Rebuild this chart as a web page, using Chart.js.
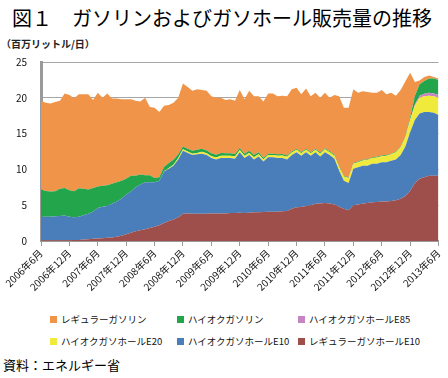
<!DOCTYPE html>
<html>
<head>
<meta charset="utf-8">
<script src="https://cdn.jsdelivr.net/npm/chart.js@4/dist/chart.umd.min.js"></script>
<style>
  html, body { margin: 0; padding: 0; background: #fff; }
  body { width: 448px; height: 378px; position: relative; overflow: hidden;
         font-family: 'Noto Sans CJK JP', 'Noto Sans', sans-serif; color: #000; }
  #title { position: absolute; left: 12px; top: 6px; font-size: 20px; line-height: 24px; white-space: nowrap; }
  #unit { position: absolute; left: 1px; top: 37px; font-size: 10px; line-height: 14px; font-weight: bold; color: #222; white-space: nowrap; }
  #chart { position: absolute; left: 0; top: 0; }
  #legend { position: absolute; left: 50px; top: 312px; display: grid;
            grid-template-columns: 127px 121px 130px; row-gap: 8px; }
  .item { display: flex; align-items: center; font-size: 9.5px; line-height: 14px; white-space: nowrap; color: #111; }
  .sw { width: 7px; height: 7px; margin-right: 4px; flex: none; }
  #source { position: absolute; left: 3px; top: 356px; font-size: 13px; line-height: 18px; white-space: nowrap; }
</style>
</head>
<body>
<div id="title">図１　ガソリンおよびガソホール販売量の推移</div>
<div id="unit">（百万リットル/日）</div>
<canvas id="chart" width="448" height="305"></canvas>
<div id="legend"></div>
<div id="source">資料：エネルギー省</div>
<script>
// ---- data (million litres / day), monthly Jun 2006 – Jun 2013 ----
const startYear = 2006, startMonth = 6, monthCount = 85;
const tickLabels = ['2006年6月','2006年12月','2007年6月','2007年12月','2008年6月','2008年12月','2009年6月','2009年12月','2010年6月','2010年12月','2011年6月','2011年12月','2012年6月','2012年12月','2013年6月'];

const seriesNames = ['レギュラーガソホールE10','ハイオクガソホールE10','ハイオクガソホールE20','ハイオクガソホールE85','ハイオクガソリン','レギュラーガソリン'];

const regE10 = [0.1,0.1,0.1,0.1,0.1,0.12,0.12,0.15,0.15,0.2,
  0.25,0.3,0.35,0.4,0.45,0.5,0.6,0.75,0.95,1.15,
  1.35,1.5,1.65,1.8,2.0,2.2,2.5,2.8,3.0,3.3,
  3.8,3.85,3.8,3.8,3.8,3.8,3.85,3.85,3.85,3.85,
  3.9,3.9,3.95,3.9,3.95,4.0,4.0,4.05,4.1,4.1,
  4.1,4.15,4.2,4.5,4.7,4.75,4.9,5.0,5.2,5.25,
  5.3,5.25,5.1,4.8,4.5,4.3,5.0,5.1,5.25,5.3,
  5.4,5.45,5.5,5.5,5.6,5.7,5.9,6.3,7.0,8.1,
  8.7,8.9,9.1,9.1,9.1];

const hiE10 = [3.3,3.3,3.3,3.35,3.4,3.43,3.28,3.15,3.25,3.4,
  3.55,3.8,4.25,4.4,4.45,4.7,4.9,5.15,5.55,5.75,
  6.15,6.4,6.55,6.4,6.2,6.2,7.2,7.3,7.5,8.1,
  8.8,8.45,8.2,8.3,8.4,8.2,7.75,7.55,7.75,7.75,
  7.7,7.6,8.45,7.7,8.05,7.4,7.8,7.05,7.6,7.6,
  7.5,7.45,7.2,7.5,7.7,7.15,7.5,6.9,7.2,6.55,
  7.1,6.75,6.4,5.0,3.9,3.8,5.1,5.2,5.25,5.2,
  5.4,5.35,5.5,5.5,5.6,5.7,6.1,6.9,8.2,8.8,
  9.1,9.1,8.9,8.8,8.5];

const hiE20 = [0,0,0,0,0,0,0,0,0,0,
  0,0,0,0,0,0,0,0,0,0,
  0,0,0,0,0,0,0.05,0.1,0.15,0.2,
  0.2,0.2,0.2,0.2,0.25,0.25,0.25,0.25,0.3,0.3,
  0.3,0.3,0.3,0.3,0.3,0.3,0.3,0.3,0.3,0.3,
  0.3,0.35,0.35,0.35,0.35,0.35,0.35,0.35,0.35,0.4,
  0.4,0.4,0.4,0.5,0.6,0.7,0.7,0.7,0.75,0.8,
  0.8,0.85,0.85,0.9,0.9,1.0,1.1,1.3,1.7,2.0,
  2.2,2.2,2.3,2.3,2.4];

const hiE85 = [0,0,0,0,0,0,0,0,0,0,
  0,0,0,0,0,0,0,0,0,0,
  0,0,0,0,0,0,0,0,0,0,
  0,0,0,0,0,0,0,0,0,0,
  0,0,0,0,0,0,0,0,0,0,
  0,0,0,0,0,0,0,0,0,0,
  0,0,0,0,0,0,0,0,0,0,
  0,0,0,0,0,0,0,0,0.05,0.15,
  0.3,0.35,0.4,0.4,0.4];

const hiGas = [3.8,3.6,3.5,3.5,3.8,3.85,3.7,3.65,3.95,3.7,
  3.4,3.3,3.0,2.9,2.9,2.8,2.7,2.5,2.2,2.2,
  1.6,1.4,1.0,1.0,0.6,0.5,0.6,0.7,0.7,0.5,
  0.4,0.4,0.4,0.45,0.45,0.4,0.4,0.4,0.4,0.35,
  0.35,0.35,0.3,0.3,0.3,0.3,0.3,0.2,0.2,0.2,
  0.2,0.2,0.2,0.15,0.15,0.15,0.15,0.15,0.15,0.15,
  0.15,0.15,0.15,0.1,0.1,0.1,0.1,0.1,0.1,0.1,
  0.1,0.1,0.1,0.1,0.1,0.1,0.1,0.1,0.3,1.2,
  1.6,1.8,2.0,2.1,2.1];

const regGas = [12.4,12.3,12.3,12.45,12.3,13.2,13.3,13.0,13.15,13.2,
  13.3,12.3,13.1,12.3,12.8,11.9,11.7,11.4,11.1,10.7,
  10.5,10.2,10.8,9.5,9.8,9.1,8.55,8.1,7.95,7.9,
  8.8,8.6,8.4,8.45,8.2,8.35,7.95,7.95,7.7,7.45,
  7.55,7.45,8.1,7.6,8.4,8.2,7.8,7.9,8.4,8.4,
  8.1,8.15,8.25,8.7,8.5,8.1,8.4,7.8,7.8,7.65,
  7.75,7.45,8.35,9.8,9.5,9.7,10.3,9.6,9.55,9.4,
  9.0,8.95,9.15,8.5,8.5,7.8,7.9,7.7,6.25,1.95,
  0.5,0.55,0.4,0.2,0.2];

const yTicks = [0, 5, 10, 15, 20, 25];

// ---- categories (month names) ----
const categories = [];
for (let i = 0; i < monthCount; i++) {
  const t = startYear * 12 + (startMonth - 1) + i;
  categories.push(Math.floor(t / 12) + '年' + (t % 12 + 1) + '月');
}

const colors = ['#9E4F4B', '#4A7EBB', '#F0EA3C', '#C584C2', '#23A54B', '#EF9449'];
const values = [regE10, hiE10, hiE20, hiE85, hiGas, regGas];

Chart.defaults.font.family = "'Noto Sans CJK JP', 'Noto Sans', sans-serif";

const datasets = values.map((v, i) => ({
  label: seriesNames[i],
  data: v,
  backgroundColor: colors[i],
  borderColor: colors[i],
  borderWidth: 0,
  pointRadius: 0,
  tension: 0,
  fill: i === 0 ? 'origin' : '-1'
}));

const chart = new Chart(document.getElementById('chart'), {
  type: 'line',
  data: { labels: categories, datasets },
  options: {
    responsive: false,
    animation: false,
    devicePixelRatio: 1,
    layout: { padding: { top: 62, right: 7, left: 0, bottom: 0 } },
    plugins: { legend: { display: false }, tooltip: { enabled: false } },
    scales: {
      x: {
        type: 'category',
        offset: false,
        grid: { drawOnChartArea: false, drawTicks: true, tickLength: 5, color: '#9a9a9a', lineWidth: 1 },
        border: { color: '#9a9a9a', width: 2 },
        ticks: {
          autoSkip: false, minRotation: 45, maxRotation: 45, padding: 1,
          color: '#111', font: { size: 10 },
          callback: (v, i) => (i % 6 === 0 ? tickLabels[i / 6] : null)
        },
        afterFit: s => { s.height = 64; }
      },
      y: {
        stacked: true,
        min: 0, max: 25,
        afterBuildTicks: s => { s.ticks = yTicks.map(v => ({ value: v })); },
        grid: { color: '#a6a6a6', lineWidth: 1, drawTicks: false },
        border: { color: '#9a9a9a', width: 3 },
        ticks: { padding: 14, color: '#111', font: { size: 10 } },
        afterFit: s => { s.width = 41; }
      }
    }
  }
});

// ---- legend (HTML, built from chart datasets, in reference order) ----
const legendOrder = [5, 4, 3, 2, 1, 0];
const legendEl = document.getElementById('legend');
legendOrder.forEach(idx => {
  const ds = chart.data.datasets[idx];
  const item = document.createElement('div');
  item.className = 'item';
  const sw = document.createElement('span');
  sw.className = 'sw';
  sw.style.background = ds.backgroundColor;
  const tx = document.createElement('span');
  tx.textContent = ds.label;
  item.appendChild(sw);
  item.appendChild(tx);
  legendEl.appendChild(item);
});
</script>
</body>
</html>
